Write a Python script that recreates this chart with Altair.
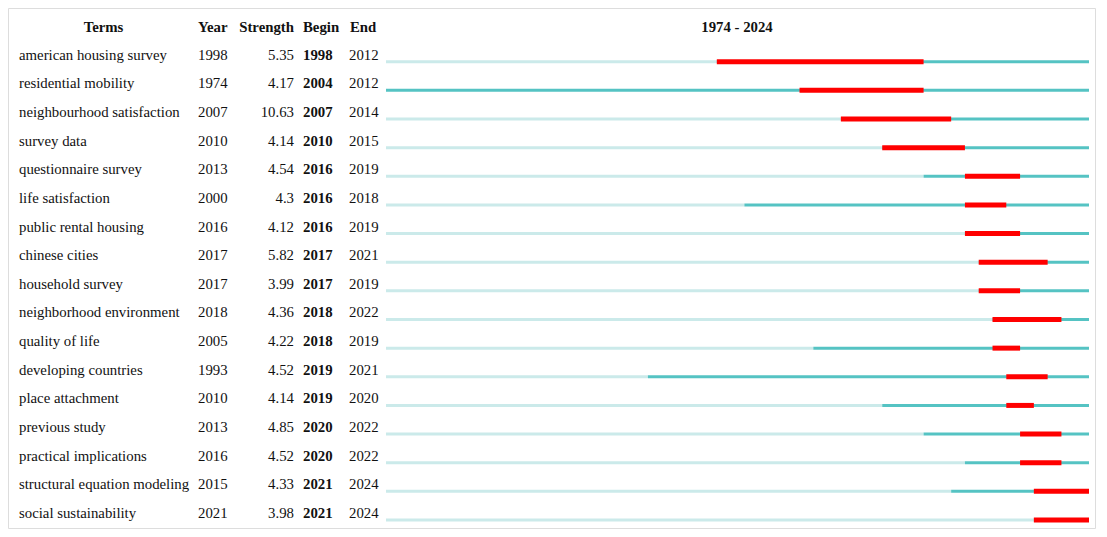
import altair as alt
import pandas as pd

terms = ["american housing survey", "residential mobility", "neighbourhood satisfaction",
         "survey data", "questionnaire survey", "life satisfaction", "public rental housing",
         "chinese cities", "household survey", "neighborhood environment", "quality of life",
         "developing countries", "place attachment", "previous study", "practical implications",
         "structural equation modeling", "social sustainability"]
years = [1998, 1974, 2007, 2010, 2013, 2000, 2016, 2017, 2017, 2018, 2005, 1993, 2010, 2013, 2016, 2015, 2021]
strengths = ["5.35", "4.17", "10.63", "4.14", "4.54", "4.3", "4.12", "5.82", "3.99", "4.36", "4.22",
             "4.52", "4.14", "4.85", "4.52", "4.33", "3.98"]
begins = [1998, 2004, 2007, 2010, 2016, 2016, 2016, 2017, 2017, 2018, 2018, 2019, 2019, 2020, 2020, 2021, 2021]
ends = [2012, 2012, 2014, 2015, 2019, 2018, 2019, 2021, 2019, 2022, 2019, 2021, 2020, 2022, 2022, 2024, 2024]
first_year = 1974
last_year = 2024

df = pd.DataFrame({
    "term": terms, "year": years, "strength": strengths, "begin": begins, "end": ends,
    "row": list(range(len(terms))),
})
df["first"] = first_year
df["last"] = last_year + 1
df["year_s"] = df["year"].astype(str)
df["begin_s"] = df["begin"].astype(str)
df["end_s"] = df["end"].astype(str)

FONT = "Liberation Serif"
FS = 14.8
LIGHT = "#CBEAEA"
DARK = "#55C3C3"
RED = "#FF0000"
W, H = 1088, 521

xs = alt.Scale(domain=[first_year, last_year + 1], range=[378, 1081], nice=False, zero=False)
ys = alt.Scale(domain=[0, len(terms) - 1], range=[53.7, 512], nice=False, zero=False)

base = alt.Chart(df)
Y = alt.Y("row:Q", scale=ys, axis=None)

light = base.mark_rule(color=LIGHT, strokeWidth=3, strokeCap="butt").encode(
    x=alt.X("first:Q", scale=xs, axis=None), x2="year:Q", y=Y)
dark = base.mark_rule(color=DARK, strokeWidth=3, strokeCap="butt").encode(
    x=alt.X("year:Q", scale=xs, axis=None), x2="last:Q", y=Y)
red = base.transform_calculate(stop="datum.end + 1").mark_rule(
    color=RED, strokeWidth=5, strokeCap="butt").encode(
    x=alt.X("begin:Q", scale=xs, axis=None), x2="stop:Q", y=Y)

def col(field, xpx, align="left", bold=False):
    return base.mark_text(font=FONT, fontSize=FS, align=align, baseline="alphabetic", dy=-2,
                          fontWeight="bold" if bold else "normal", color="#111111").encode(
        x=alt.value(xpx), y=Y, text=f"{field}:N")

t_terms = col("term", 11)
t_year = col("year_s", 190)
t_str = col("strength", 286, align="right")
t_begin = col("begin_s", 295, bold=True)
t_end = col("end_s", 341)

hdr = pd.DataFrame({"h": [0]})
def header(label, xpx, align):
    return alt.Chart(hdr).mark_text(font=FONT, fontSize=FS, fontWeight="bold", align=align,
                                    baseline="alphabetic", text=label, color="#111111").encode(
        x=alt.value(xpx), y=alt.value(23.5))

h1 = header("Terms", 95.5, "center")
h2 = header("Year", 190, "left")
h3 = header("Strength", 286, "right")
h4 = header("Begin", 295, "left")
h5 = header("End", 342, "left")
h6 = header(f"{first_year} - {last_year}", 729, "center")

frame = alt.Chart(hdr).mark_rect(fill=None, stroke="#DDDDDD", strokeWidth=1).encode(
    x=alt.value(0.5), x2=alt.value(W - 0.5), y=alt.value(0.5), y2=alt.value(H - 0.5))

chart = alt.layer(frame, light, dark, red, t_terms, t_year, t_str, t_begin, t_end,
                  h1, h2, h3, h4, h5, h6).properties(
    width=W, height=H, padding=0, autosize=alt.AutoSizeParams(type="none")
).configure_view(strokeWidth=0)

chart.save("out.html", embed_options={"renderer": "svg", "actions": False})
